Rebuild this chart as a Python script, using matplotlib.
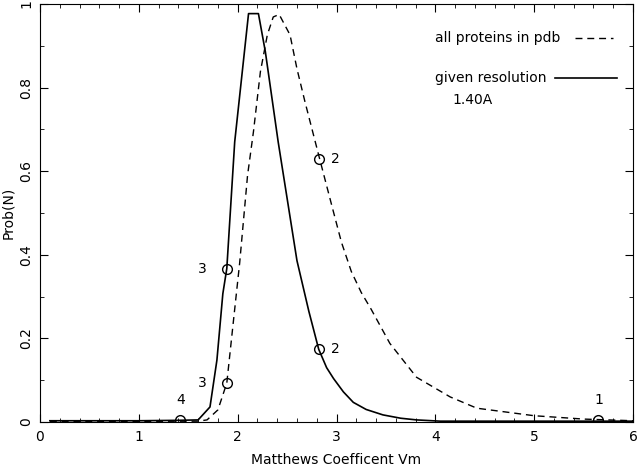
import matplotlib
matplotlib.use('Agg')
import matplotlib.pyplot as plt
from matplotlib.ticker import MultipleLocator, FuncFormatter

# given resolution curve (solid)
res_x = [0.1, 1.0, 1.4, 1.6, 1.72, 1.79, 1.85, 1.89, 1.97, 2.11, 2.21, 2.28, 2.41,
         2.6, 2.72, 2.82, 2.9, 2.97, 3.07, 3.17, 3.3, 3.47, 3.65, 3.81, 4.05, 5.0, 6.0]
res_y = [0.003, 0.003, 0.004, 0.005, 0.036, 0.148, 0.307, 0.367, 0.67, 0.977, 0.977,
         0.886, 0.67, 0.386, 0.265, 0.174, 0.13, 0.104, 0.072, 0.047, 0.03, 0.017,
         0.009, 0.005, 0.002, 0.002, 0.002]

# all proteins in pdb (dashed)
pdb_x = [0.1, 1.6, 1.69, 1.8, 1.89, 1.95, 2.02, 2.1, 2.16, 2.23, 2.3, 2.36, 2.42,
         2.53, 2.6, 2.68, 2.83, 2.95, 3.05, 3.15, 3.25, 3.35, 3.54, 3.81, 4.15, 4.42,
         5.0, 5.5, 6.0]
pdb_y = [0.001, 0.002, 0.005, 0.029, 0.093, 0.226, 0.38, 0.59, 0.695, 0.838, 0.926,
         0.969, 0.975, 0.926, 0.845, 0.767, 0.629, 0.52, 0.43, 0.36, 0.31, 0.27,
         0.188, 0.107, 0.06, 0.033, 0.015, 0.007, 0.003]

# marked points and their labels
res_pts_x = [1.89, 2.82, 1.42, 5.65]
res_pts_y = [0.367, 0.174, 0.004, 0.004]
res_pts_lab = ['3', '2', '4', '1']
pdb_pts_x = [1.89, 2.82]
pdb_pts_y = [0.093, 0.629]
pdb_pts_lab = ['3', '2']

fig = plt.figure(figsize=(6.4, 4.67), dpi=100)
ax = fig.add_axes([40/640, 1-422/467, 593/640, 418/467])

ax.plot(res_x, res_y, color='black', lw=1.2)
ax.plot(pdb_x, pdb_y, color='black', lw=1.0, ls=(0, (5, 3.5)))
ax.plot(res_pts_x, res_pts_y, 'o', mfc='none', mec='black', ms=7, mew=1.0)
ax.plot(pdb_pts_x, pdb_pts_y, 'o', mfc='none', mec='black', ms=7, mew=1.0)

# labels next to the circles
offsets = {'3': (-24, 0), '2': (12, 0), '4': (0, 20), '1': (0, 20)}
for px, py, lab in list(zip(res_pts_x, res_pts_y, res_pts_lab)) + list(zip(pdb_pts_x, pdb_pts_y, pdb_pts_lab)):
    dx, dy = offsets[lab]
    ax.annotate(lab, (px, py), xytext=(dx, dy), textcoords='offset pixels',
                ha='left' if dx > 0 else 'center', va='center', fontsize=10)

ax.set_xlim(0, 6)
ax.set_ylim(0, 1)
ax.xaxis.set_major_locator(MultipleLocator(1))
ax.xaxis.set_minor_locator(MultipleLocator(0.2))
ax.yaxis.set_major_locator(MultipleLocator(0.2))
ax.yaxis.set_minor_locator(MultipleLocator(0.1))
fmt = FuncFormatter(lambda v, pos: '%g' % round(v, 2))
ax.xaxis.set_major_formatter(fmt)
ax.yaxis.set_major_formatter(fmt)
ax.tick_params(which='both', direction='in', top=True, right=True, labelsize=10)
ax.tick_params(which='major', length=6)
ax.tick_params(which='minor', length=3)
ax.tick_params(axis='y', labelrotation=90, pad=5)
ax.tick_params(axis='x', pad=6)
for t in ax.get_yticklabels():
    t.set_va('center')

ax.set_xlabel('Matthews Coefficent Vm', fontsize=10, labelpad=6)
ax.set_ylabel('Prob(N)', fontsize=10, labelpad=3)

# legend drawn by hand: text on the left, line sample on the right
ax.text(0.666, 0.918, 'all proteins in pdb', transform=ax.transAxes, fontsize=10, va='center')
ax.plot([0.902, 0.966], [0.918, 0.918], transform=ax.transAxes, color='black', lw=1.0,
        ls=(0, (5, 3.5)))
ax.text(0.666, 0.823, 'given resolution', transform=ax.transAxes, fontsize=10, va='center')
ax.plot([0.868, 0.973], [0.823, 0.823], transform=ax.transAxes, color='black', lw=1.2)
ax.text(0.696, 0.770, '1.40A', transform=ax.transAxes, fontsize=10, va='center')

fig.savefig('out.png', dpi=100)
